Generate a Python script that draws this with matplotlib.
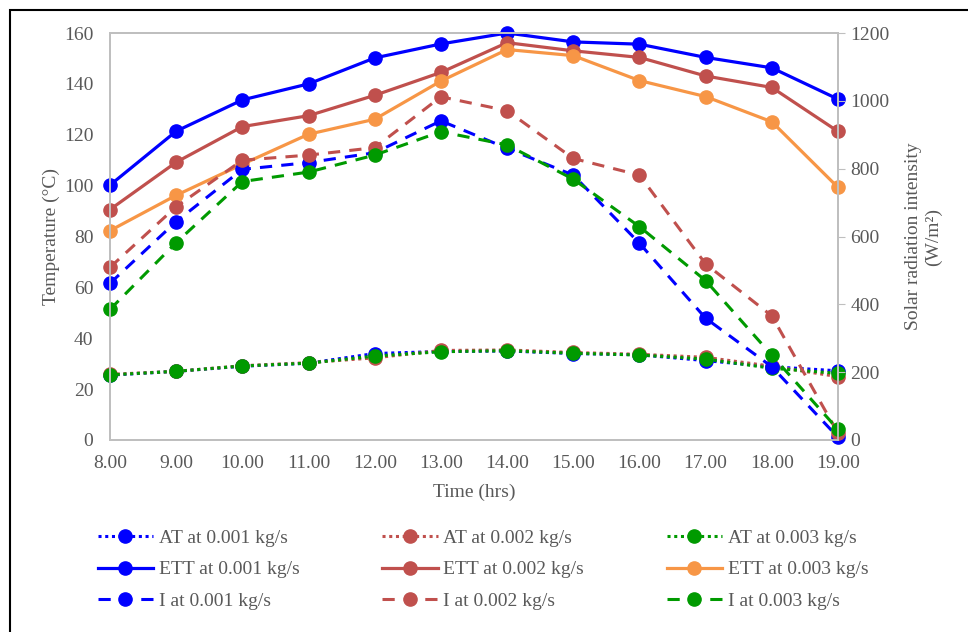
import matplotlib.pyplot as plt
from matplotlib.patches import Rectangle

plt.rcParams['font.family'] = ['Liberation Serif', 'DejaVu Serif']

hours = [8, 9, 10, 11, 12, 13, 14, 15, 16, 17, 18, 19]
hour_labels = ["8.00", "9.00", "10.00", "11.00", "12.00", "13.00",
               "14.00", "15.00", "16.00", "17.00", "18.00", "19.00"]

# ambient temperature (deg C)
at_001 = [25.5, 27.0, 29.0, 30.2, 34.0, 34.8, 35.0, 34.0, 33.5, 31.2, 28.8, 27.2]
at_002 = [25.8, 27.0, 29.2, 30.4, 32.3, 35.2, 35.4, 34.4, 33.7, 32.5, 29.0, 24.9]
at_003 = [25.6, 27.0, 29.1, 30.2, 33.0, 34.7, 35.1, 34.1, 33.4, 31.8, 28.2, 26.2]

# ETT temperature (deg C)
ett_001 = [100.2, 121.4, 133.7, 140.0, 150.2, 155.7, 160.0, 156.5, 155.6, 150.4, 146.3, 134.0]
ett_002 = [90.6, 109.2, 123.2, 127.5, 135.5, 144.5, 156.2, 153.0, 150.4, 143.1, 138.6, 121.3]
ett_003 = [82.3, 96.2, 108.4, 120.2, 126.1, 141.1, 153.5, 151.1, 141.3, 135.0, 125.1, 99.3]

# solar radiation intensity (W/m2)
i_001 = [462, 644, 798, 818, 847, 941, 860, 781, 580, 359, 216, 8]
i_002 = [509, 688, 825, 840, 862, 1012, 971, 830, 781, 519, 366, 20]
i_003 = [385, 582, 762, 790, 840, 909, 870, 769, 629, 470, 250, 31]

blue = '#0000FF'
red = '#C0504D'
orange = '#F79646'
green = '#009A00'
grey = '#595959'
spine_c = '#BFBFBF'
fs = 14

fig = plt.figure(figsize=(9.68, 6.32), dpi=100)
ax = fig.add_axes([110 / 968, 1 - 440 / 632, 728 / 968, 407 / 632])
ax2 = ax.twinx()

ms = 9.5
kw = dict(marker='o', markersize=ms, clip_on=False)

h = {}
h['at1'], = ax.plot(hours, at_001, color=blue, ls=(0, (1, 1.2)), lw=2.2, label='AT at 0.001 kg/s', **kw)
h['at2'], = ax.plot(hours, at_002, color=red, ls=(0, (1, 1.2)), lw=2.2, label='AT at 0.002 kg/s', **kw)
h['at3'], = ax.plot(hours, at_003, color=green, ls=(0, (1, 1.2)), lw=2.2, label='AT at 0.003 kg/s', **kw)
h['ett1'], = ax.plot(hours, ett_001, color=blue, lw=2.3, label='ETT at 0.001 kg/s', **kw)
h['ett2'], = ax.plot(hours, ett_002, color=red, lw=2.3, label='ETT at 0.002 kg/s', **kw)
h['ett3'], = ax.plot(hours, ett_003, color=orange, lw=2.3, label='ETT at 0.003 kg/s', **kw)
h['i1'], = ax2.plot(hours, i_001, color=blue, ls=(0, (4, 3)), lw=2.2, label='I at 0.001 kg/s', **kw)
h['i2'], = ax2.plot(hours, i_002, color=red, ls=(0, (4, 3)), lw=2.2, label='I at 0.002 kg/s', **kw)
h['i3'], = ax2.plot(hours, i_003, color=green, ls=(0, (4, 3)), lw=2.2, label='I at 0.003 kg/s', **kw)

ax.set_xlim(8, 19)
ax.set_ylim(0, 160)
ax2.set_ylim(0, 1200)
ax.set_xticks(hours)
ax.set_xticklabels(hour_labels)
ax.set_yticks(range(0, 161, 20))
ax2.set_yticks(range(0, 1201, 200))

for a in (ax, ax2):
    for s in a.spines.values():
        s.set_color(spine_c)
        s.set_linewidth(1.3)
ax.tick_params(axis='both', length=0, labelsize=fs, labelcolor=grey)
ax.tick_params(axis='x', pad=10.5)
ax.tick_params(axis='y', pad=12)
ax2.tick_params(axis='y', length=5, color=spine_c, labelsize=fs, labelcolor=grey, pad=4)

ax.set_xlabel('Time (hrs)', fontsize=fs, color=grey, labelpad=9)
ax.set_ylabel('Temperature (°C)', fontsize=fs, color=grey, labelpad=3)
ax2.set_ylabel('Solar radiation intensity\n(W/m²)', fontsize=fs, color=grey, labelpad=11)

order = ['at1', 'ett1', 'i1', 'at2', 'ett2', 'i2', 'at3', 'ett3', 'i3']
leg = fig.legend([h[k] for k in order], [h[k].get_label() for k in order],
                 ncol=3, loc='upper left', bbox_to_anchor=(80 / 968, 1 - 512 / 632),
                 frameon=False, fontsize=fs, handlelength=2.85, handletextpad=0.3,
                 columnspacing=4.25, labelspacing=0.7, markerscale=1.0)
for t in leg.get_texts():
    t.set_color(grey)

# outer frame
fig.patches.append(Rectangle((10 / 968, -0.1), 1.2, 1.1 - 10 / 632,
                             transform=fig.transFigure, fill=False,
                             edgecolor='black', lw=1.5, clip_on=False))

fig.savefig('out.png', dpi=100)
